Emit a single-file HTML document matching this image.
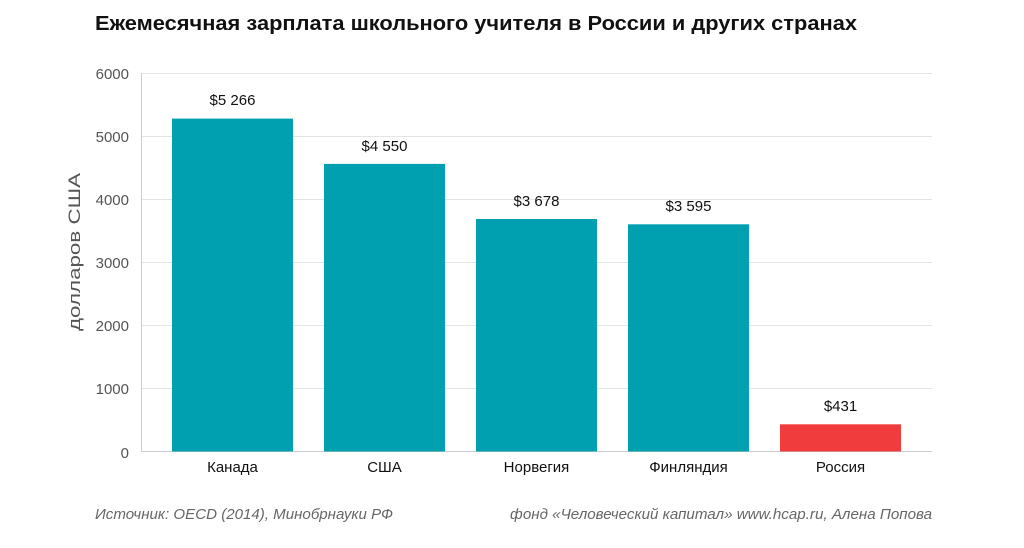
<!DOCTYPE html>
<html><head><meta charset="utf-8"><style>
body{margin:0;background:#fff;width:1024px;height:543px;overflow:hidden;font-family:"Liberation Sans",sans-serif}
</style></head><body>
<svg width="1024" height="543" xmlns="http://www.w3.org/2000/svg" font-family="Liberation Sans, sans-serif">
<text x="95" y="30" font-size="20" font-weight="bold" fill="#111" textLength="762" lengthAdjust="spacingAndGlyphs">Ежемесячная зарплата школьного учителя в России и других странах</text>
<g stroke="#e4e4e4" stroke-width="1">
<line x1="141" x2="932" y1="73.5" y2="73.5"/>
<line x1="141" x2="932" y1="136.5" y2="136.5"/>
<line x1="141" x2="932" y1="199.5" y2="199.5"/>
<line x1="141" x2="932" y1="262.5" y2="262.5"/>
<line x1="141" x2="932" y1="325.5" y2="325.5"/>
<line x1="141" x2="932" y1="388.5" y2="388.5"/>
</g>
<line x1="141.5" x2="141.5" y1="73" y2="452" stroke="#ccc"/>
<line x1="141" x2="932" y1="451.5" y2="451.5" stroke="#ccc"/>
<g font-size="15" fill="#555" text-anchor="end">
<text x="129" y="79">6000</text>
<text x="129" y="142">5000</text>
<text x="129" y="205">4000</text>
<text x="129" y="268">3000</text>
<text x="129" y="331">2000</text>
<text x="129" y="394">1000</text>
<text x="129" y="458">0</text>
</g>
<text transform="translate(80,252) rotate(-90)" font-size="17" fill="#555" text-anchor="middle" textLength="158" lengthAdjust="spacingAndGlyphs">долларов США</text>
<g fill="#00a0b0">
<rect x="172" y="118.6" width="121" height="332.9"/>
<rect x="324" y="163.9" width="121" height="287.6"/>
<rect x="476" y="219" width="121" height="232.5"/>
<rect x="628" y="224.3" width="121" height="227.2"/>
</g>
<rect x="780" y="424.3" width="121" height="27.2" fill="#f03c3c"/>
<g font-size="15" fill="#111" text-anchor="middle">
<text x="232.5" y="105">$5 266</text>
<text x="384.5" y="151">$4 550</text>
<text x="536.5" y="206">$3 678</text>
<text x="688.5" y="211">$3 595</text>
<text x="840.5" y="411">$431</text>
<text x="232.5" y="472">Канада</text>
<text x="384.5" y="472">США</text>
<text x="536.5" y="472">Норвегия</text>
<text x="688.5" y="472">Финляндия</text>
<text x="840.5" y="472">Россия</text>
</g>
<g font-size="15" font-style="italic" fill="#666">
<text x="95" y="519" textLength="298" lengthAdjust="spacingAndGlyphs">Источник: OECD (2014), Минобрнауки РФ</text>
<text x="510" y="519" textLength="422" lengthAdjust="spacingAndGlyphs">фонд «Человеческий капитал» www.hcap.ru, Алена Попова</text>
</g>
</svg>
</body></html>
